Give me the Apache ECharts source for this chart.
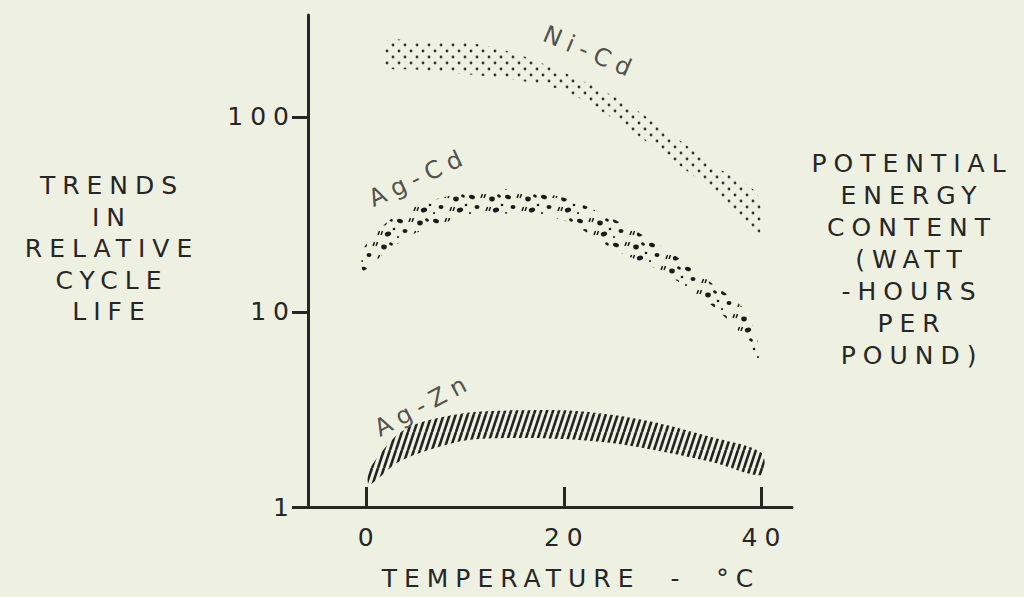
<!DOCTYPE html>
<html><head><meta charset="utf-8">
<script src="https://cdn.jsdelivr.net/npm/echarts@6/dist/echarts.min.js"></script>
<style>
html,body{margin:0;padding:0;background:#eef0e1;}
#c{width:1024px;height:597px;letter-spacing:7px;}
</style></head><body><div id="c"></div>
<script>
// ---- data ----
const tempTicks = [0, 20, 40];
const niCdTemp = [2, 5, 10, 15, 20, 25, 30, 35, 39.6];
const niCdHigh = [245, 245, 242, 212, 169, 128, 88, 57, 40];
const niCdLow  = [181, 175, 166, 155, 136, 98, 65, 42, 24.5];
const agCdTemp = [-0.3, 2, 5, 10, 15, 20, 25, 30, 35, 38.5, 39.8];
const agCdHigh = [21, 28.6, 35, 41, 42.5, 38.5, 30, 21.5, 14, 10, 6.5];
const agCdLow  = [16.3, 20.3, 25.4, 30.6, 31.8, 29.5, 21, 16, 10.8, 7.2, 5.6];
const agZnTemp = [0.3, 3, 5, 10, 15, 20, 25, 30, 35, 40];
const agZnHigh = [1.55, 2.31, 2.66, 3.03, 3.13, 3.13, 2.96, 2.66, 2.28, 1.90];
const agZnLow  = [1.3, 1.67, 1.86, 2.19, 2.26, 2.23, 2.12, 1.92, 1.70, 1.46];
const bandLabels = ['Ni-Cd', 'Ag-Cd', 'Ag-Zn'];
const labelTemp = [22.7, 5.3, 5.8];
const labelValue = [214, 49, 3.34];
const labelAngle = [-23, 25, 28];
const leftTitle = ['TRENDS', 'IN', 'RELATIVE', 'CYCLE', 'LIFE'];
const rightTitle = ['POTENTIAL', 'ENERGY', 'CONTENT', '(WATT', '-HOURS', 'PER', 'POUND)'];
const xTitle = 'TEMPERATURE  -  °C';

// ---- patterns ----
const INK = '#262626';
const FONT = '"DejaVu Sans", sans-serif';
function tile(w, h, draw) {
  const c = document.createElement('canvas'); c.width = w; c.height = h;
  const ctx = c.getContext('2d'); draw(ctx);
  return { image: c, repeat: 'repeat', imageWidth: w, imageHeight: h };
}
const dotPattern = tile(12, 12, ctx => {
  ctx.fillStyle = '#333';
  [[3, 3], [9, 9]].forEach(p => { ctx.beginPath(); ctx.arc(p[0], p[1], 1.4, 0, Math.PI * 2); ctx.fill(); });
});
const blobPattern = tile(36, 24, ctx => {
  ctx.fillStyle = '#1a1a1a'; ctx.strokeStyle = '#1a1a1a';
  const ell = (x, y, rx, ry, r) => { ctx.beginPath(); ctx.ellipse(x, y, rx, ry, r, 0, Math.PI * 2); ctx.fill(); };
  ell(4, 5, 3, 2.2, 0.3); ell(24, 7, 2.8, 2.4, 0); ell(31, 4, 2, 1.5, 0.5);
  ell(9, 15, 2.5, 2.1, 0); ell(28, 18, 3.2, 2.3, -0.3); ell(2, 21, 1.1, 1.1, 0); ell(34, 13, 1.3, 1.3, 0);
  ctx.lineWidth = 1.5;
  [[13, 2], [16, 2], [18, 15], [21, 15]].forEach(p => { ctx.beginPath(); ctx.moveTo(p[0], p[1] + 4); ctx.lineTo(p[0] + 1.5, p[1]); ctx.stroke(); });
});
const hatchPattern = tile(6, 18, ctx => {
  ctx.strokeStyle = '#222'; ctx.lineWidth = 2.6;
  for (let k = -1; k <= 1; k++) { ctx.beginPath(); ctx.moveTo(k * 6, 18); ctx.lineTo(k * 6 + 6, 0); ctx.stroke(); }
});

function bandSeries(name, temps, low, high, fill) {
  return {
    type: 'custom', name, silent: true, clip: true,
    data: temps.map((t, i) => [t, low[i], high[i]]),
    encode: { x: 0, y: [1, 2] },
    renderItem(params, api) {
      if (params.dataIndex !== 0) return null;
      const top = temps.map((t, i) => api.coord([t, high[i]]));
      const bot = temps.map((t, i) => api.coord([t, low[i]])).reverse();
      return { type: 'polygon', shape: { points: top.concat(bot), smooth: 0.3 }, style: { fill: fill, stroke: null } };
    }
  };
}

const chart = echarts.init(document.getElementById('c'), null, { renderer: 'svg' });
chart.setOption({
  backgroundColor: '#eef0e1',
  animation: false,
  textStyle: { fontFamily: FONT, color: INK },
  grid: { left: 308, top: 15, right: 232, bottom: 90, containLabel: false, outerBoundsMode: 'none' },
  xAxis: {
    type: 'value', min: -5.9, max: 43.1,
    axisLine: { onZero: false, lineStyle: { color: INK, width: 3 } },
    axisTick: { inside: true, length: 20, lineStyle: { color: INK, width: 3 }, customValues: tempTicks },
    axisLabel: { customValues: tempTicks, fontSize: 25, color: INK, fontFamily: FONT, margin: 18, padding: [0, 0, 0, 6] },
    splitLine: { show: false }
  },
  yAxis: {
    type: 'log', logBase: 10, min: 1, max: 333,
    axisLine: { onZero: false, lineStyle: { color: INK, width: 3 } },
    axisTick: { length: 16, lineStyle: { color: INK, width: 3 } },
    axisLabel: { fontSize: 25, color: INK, fontFamily: FONT, margin: 12, showMaxLabel: false },
    splitLine: { show: false }, minorTick: { show: false }
  },
  graphic: [
    { type: 'text', x: 112, y: 170, style: { text: leftTitle.join('\n'), font: '25px ' + FONT, fill: INK, align: 'center', textAlign: 'center', verticalAlign: 'top', textVerticalAlign: 'top', lineHeight: 31.5 } },
    { type: 'text', x: 912, y: 147, style: { text: rightTitle.join('\n'), font: '25px ' + FONT, fill: INK, align: 'center', textAlign: 'center', verticalAlign: 'top', textVerticalAlign: 'top', lineHeight: 32 } },
    { type: 'text', x: 571, y: 578, style: { text: xTitle, font: '25px ' + FONT, fill: INK, align: 'center', textAlign: 'center', verticalAlign: 'middle', textVerticalAlign: 'middle' } }
  ],
  series: [
    bandSeries('Ni-Cd', niCdTemp, niCdLow, niCdHigh, dotPattern),
    bandSeries('Ag-Cd', agCdTemp, agCdLow, agCdHigh, blobPattern),
    bandSeries('Ag-Zn', agZnTemp, agZnLow, agZnHigh, hatchPattern),
    {
      type: 'scatter', silent: true, symbolSize: 0,
      data: bandLabels.map((n, i) => ({
        value: [labelTemp[i], labelValue[i]],
        label: { show: true, position: 'inside', formatter: n, rotate: labelAngle[i], fontSize: 24, color: INK, fontFamily: FONT }
      }))
    }
  ]
});
</script></body></html>
